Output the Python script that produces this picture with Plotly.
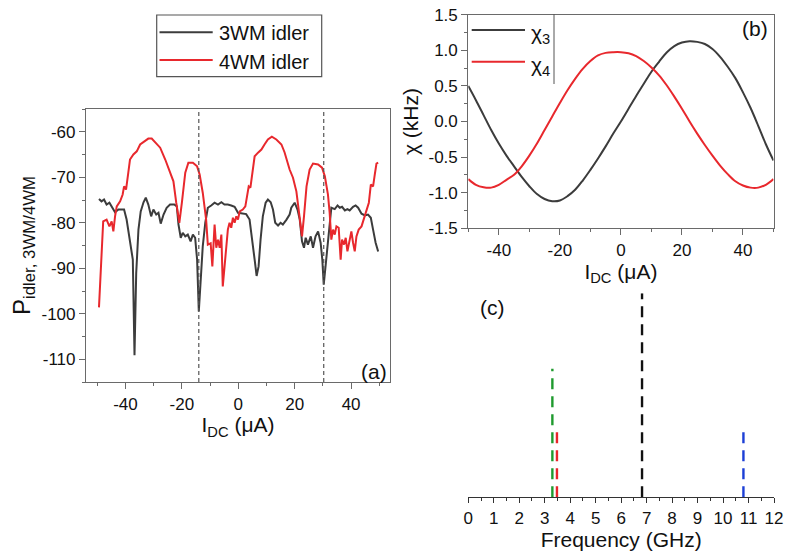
import plotly.graph_objects as go

# ---------------- Panel (a): idler power vs I_DC ----------------
idler3_x = [-49.4, -48.5, -47.6, -46.7, -45.7, -44.9, -43.7, -42.5, -41.3, -40.5, -39.6, -38.4, -37.4, -36.8,
            -36.2, -35.4, -34.6, -33.6, -32.8, -31.9, -30.9, -30.1, -29.1, -28.3, -27.5, -26.5, -25.4, -24.2,
            -22.7, -21.8, -21.2, -20.4, -19.7, -18.8, -17.9, -16.9, -16.1, -15.3, -14.6, -14.0, -13.4, -12.6,
            -11.7, -10.8, -9.6, -8.4, -7.2, -6.0, -4.9, -3.7, -2.5, -1.3, -0.1, 1.3, 2.8, 4.0, 5.0, 5.8, 6.5,
            7.2, 7.9, 8.7, 9.7, 10.5, 11.5, 12.3, 13.1, 14.1, 15.0, 15.8, 17.1, 18.2, 18.8, 20.0, 21.0, 21.8,
            22.6, 23.3, 23.9, 24.7, 25.7, 26.5, 27.4, 28.3, 29.2, 29.8, 30.3, 30.9, 31.6, 32.4, 33.0, 34.2,
            35.2, 36.0, 36.8, 37.8, 38.7, 39.5, 40.7, 41.6, 42.5, 43.7, 44.9, 46.0, 47.0, 47.8, 48.7, 49.6]
idler3_y = [-74.8, -75.3, -74.9, -76.0, -75.6, -76.5, -77.7, -77.1, -77.0, -77.1, -79.3, -83.7, -88.1, -109.1,
            -91.1, -81.5, -77.5, -75.5, -74.5, -76.0, -78.6, -77.1, -78.2, -77.8, -80.2, -78.2, -76.7, -76.0,
            -76.0, -76.4, -80.4, -83.3, -82.2, -83.0, -82.6, -84.1, -82.6, -83.3, -88.1, -99.5, -92.5, -85.2,
            -80.0, -76.7, -76.2, -75.6, -76.0, -75.5, -76.0, -76.0, -76.2, -76.5, -77.8, -78.0, -78.1, -79.3,
            -83.7, -88.1, -91.7, -89.6, -83.7, -78.6, -75.6, -74.9, -75.5, -77.1, -80.0, -80.6, -80.0, -80.4,
            -79.3, -78.2, -76.7, -75.6, -77.1, -79.3, -84.1, -85.5, -83.3, -84.8, -83.0, -85.5, -83.0, -81.9,
            -84.4, -88.1, -93.6, -89.6, -84.4, -79.3, -76.7, -77.0, -76.2, -76.7, -76.5, -77.3, -77.0, -77.3,
            -76.5, -76.2, -76.7, -78.0, -78.4, -78.2, -78.9, -81.5, -84.4, -86.3]

idler4_x = [-49.4, -48.5, -47.9, -46.7, -45.7, -44.9, -44.3, -43.7, -43.1, -41.9, -41.0, -40.5, -39.8, -39.0,
            -38.4, -37.2, -36.0, -34.8, -33.6, -31.9, -30.7, -29.5, -27.7, -25.9, -24.2, -23.0, -22.0, -21.2,
            -20.9, -20.0, -18.8, -17.7, -16.1, -14.6, -13.7, -12.6, -11.4, -10.8, -9.8, -9.2, -8.4, -7.8, -7.2,
            -6.6, -6.0, -5.5, -4.6, -3.7, -3.1, -2.5, -1.9, -1.3, -0.7, -0.1, 0.5, 1.6, 2.5, 3.2, 3.7, 4.3, 5.2,
            5.8, 7.0, 8.2, 9.3, 10.5, 11.9, 13.5, 15.3, 16.4, 18.2, 19.4, 20.6, 21.8, 22.6, 23.3, 24.2, 25.3,
            26.5, 28.3, 29.7, 30.7, 31.8, 32.4, 33.0, 33.6, 34.2, 34.8, 35.6, 36.3, 36.8, 37.5, 38.1, 38.7,
            39.5, 40.1, 40.7, 41.3, 41.9, 42.7, 43.7, 44.5, 45.5, 46.3, 47.0, 47.8, 48.4, 49.0, 49.6]
idler4_y = [-98.6, -86.7, -79.7, -79.3, -80.8, -79.7, -81.9, -78.6, -76.4, -75.3, -73.8, -72.0, -72.7, -69.0,
            -66.1, -65.0, -64.3, -62.8, -62.3, -61.5, -61.5, -62.3, -63.5, -66.1, -69.0, -70.9, -75.6, -79.7,
            -80.0, -75.6, -69.0, -66.8, -66.8, -67.6, -69.4, -73.4, -79.3, -84.8, -84.5, -89.6, -80.4, -85.5,
            -83.7, -85.5, -82.6, -94.0, -86.7, -81.5, -80.0, -81.1, -78.9, -80.0, -78.6, -79.3, -77.5, -77.1,
            -76.4, -73.1, -72.0, -72.3, -67.6, -65.4, -64.6, -63.9, -62.8, -61.7, -61.1, -61.7, -62.8, -64.5,
            -68.3, -70.1, -73.1, -78.6, -83.0, -78.6, -72.0, -68.3, -67.0, -67.2, -67.9, -69.8, -73.8, -77.8,
            -83.7, -81.5, -82.6, -80.8, -81.1, -88.1, -83.7, -84.8, -83.3, -86.3, -83.7, -81.9, -84.4, -86.3,
            -83.0, -81.5, -80.8, -79.3, -77.5, -75.6, -71.6, -72.0, -69.4, -67.0, -66.8]

guide_x = [-14.0, 30.3]
legend_a = ["3WM idler", "4WM idler"]
a_xticks = [-40, -20, 0, 20, 40]
a_xtick_text = ["-40", "-20", "0", "20", "40"]
a_yticks = [-110, -100, -90, -80, -70, -60]
a_ytick_text = ["-110", "-100", "-90", "-80", "-70", "-60"]

# ---------------- Panel (b): chi vs I_DC ----------------
chi_x = [-50, -47.5, -45, -42.5, -40, -37.5, -35, -32.5, -30, -27.5, -25, -22.5, -20, -17.5, -15, -12.5,
         -10, -7.5, -5, -2.5, 0, 2.5, 5, 7.5, 10, 12.5, 15, 17.5, 20, 22.5, 25, 27.5, 30, 32.5, 35, 37.5,
         40, 42.5, 45, 47.5, 50]
chi3 = [0.50, 0.30, 0.09, -0.12, -0.31, -0.48, -0.63, -0.78, -0.91, -1.02, -1.09, -1.12, -1.11, -1.05,
        -0.96, -0.83, -0.68, -0.52, -0.35, -0.17, 0.0, 0.18, 0.36, 0.53, 0.70, 0.84, 0.97, 1.06, 1.11, 1.13,
        1.12, 1.09, 1.02, 0.91, 0.77, 0.61, 0.41, 0.19, -0.06, -0.32, -0.55]
chi4 = [-0.81, -0.89, -0.925, -0.93, -0.89, -0.82, -0.75, -0.63, -0.48, -0.31, -0.12, 0.07, 0.26, 0.44,
        0.60, 0.74, 0.85, 0.93, 0.965, 0.975, 0.975, 0.96, 0.92, 0.85, 0.76, 0.65, 0.51, 0.35, 0.18, 0.0,
        -0.17, -0.33, -0.48, -0.62, -0.74, -0.84, -0.90, -0.93, -0.93, -0.89, -0.81]
legend_b = ["χ<sub>3</sub>", "χ<sub>4</sub>"]
b_yticks = [-1.5, -1.0, -0.5, 0.0, 0.5, 1.0, 1.5]
b_ytick_text = ["-1.5", "-1.0", "-0.5", "0.0", "0.5", "1.0", "1.5"]

# ---------------- Panel (c): frequency lines ----------------
freq_ghz = [3.30, 3.48, 6.82, 10.80]
freq_amp = [0.63, 0.34, 1.00, 0.34]
freq_colors = ["#1f9a2e", "#e8262b", "#111111", "#1c3fd6"]

BLACK = "#3c3c3c"
RED = "#e8282d"
FONT = "Liberation Sans, Arial, sans-serif"
# the page body margin is removed (post_script), so the figure fills the 788x558 window
W, H = 788, 558


def px(x):
    return x / W


def py(y):
    return 1 - y / H


fig = go.Figure()

fig.add_trace(go.Scatter(x=idler3_x, y=idler3_y, mode="lines", line=dict(color=BLACK, width=2),
                         xaxis="x", yaxis="y", showlegend=False))
fig.add_trace(go.Scatter(x=idler4_x, y=idler4_y, mode="lines", line=dict(color=RED, width=2),
                         xaxis="x", yaxis="y", showlegend=False))
fig.add_trace(go.Scatter(x=chi_x, y=chi3, mode="lines", line=dict(color=BLACK, width=2, shape="spline"),
                         xaxis="x2", yaxis="y2", showlegend=False))
fig.add_trace(go.Scatter(x=chi_x, y=chi4, mode="lines", line=dict(color=RED, width=2, shape="spline"),
                         xaxis="x2", yaxis="y2", showlegend=False))
for f, a, c in zip(freq_ghz, freq_amp, freq_colors):
    fig.add_trace(go.Scatter(x=[f, f], y=[0, a], mode="lines",
                             line=dict(color=c, width=2.4, dash="11px,7px"),
                             xaxis="x3", yaxis="y3", showlegend=False))

shapes = []
for gx in guide_x:
    shapes.append(dict(type="line", xref="x", yref="y domain", x0=gx, x1=gx, y0=0, y1=1,
                       line=dict(color="#555555", width=1.2, dash="4px,3px")))

# legend (a)
shapes.append(dict(type="rect", xref="paper", yref="paper", x0=px(156.7), x1=px(321.7),
                   y0=py(76.7), y1=py(15), line=dict(color="#555555", width=1.2)))
for yy, col in zip([32.3, 60.0], [BLACK, RED]):
    shapes.append(dict(type="line", xref="paper", yref="paper", x0=px(159.5), x1=px(212.7),
                       y0=py(yy), y1=py(yy), line=dict(color=col, width=2)))
# legend (b)
for yy, col in zip([30.0, 61.7], [BLACK, RED]):
    shapes.append(dict(type="line", xref="paper", yref="paper", x0=px(471.7), x1=px(525),
                       y0=py(yy), y1=py(yy), line=dict(color=col, width=2)))
shapes.append(dict(type="line", xref="paper", yref="paper", x0=px(554), x1=px(554),
                   y0=py(84), y1=py(14), line=dict(color="#555555", width=1)))

annotations = []
for txt, yy in zip(legend_a, [33.5, 61.5]):
    annotations.append(dict(text=txt, xref="paper", yref="paper", x=px(217), y=py(yy),
                            xanchor="left", yanchor="middle", showarrow=False,
                            font=dict(size=20, color="#111", family=FONT)))
for txt, yy in zip(legend_b, [34.5, 66.0]):
    annotations.append(dict(text=txt, xref="paper", yref="paper", x=px(529), y=py(yy),
                            xanchor="left", yanchor="middle", showarrow=False,
                            font=dict(size=21, color="#111", family=FONT)))
for txt, xx, yy in [("(a)", 374, 371), ("(b)", 755, 28), ("(c)", 492, 307.5)]:
    annotations.append(dict(text=txt, xref="paper", yref="paper", x=px(xx), y=py(yy),
                            xanchor="center", yanchor="middle", showarrow=False,
                            font=dict(size=21, color="#111", family=FONT)))

tickfont = dict(size=17, color="#111", family=FONT)
titlefont = dict(size=21, color="#111", family=FONT)
frame = dict(showline=True, linecolor="#6a6a6a", linewidth=1.2, mirror=True, ticks="outside",
             ticklen=6, tickcolor="#6a6a6a", showgrid=False, zeroline=False, tickfont=tickfont,
             automargin=False, ticklabeloverflow="allow")

fig.update_layout(
    width=W, height=H, margin=dict(l=0, r=0, t=0, b=0, autoexpand=False),
    paper_bgcolor="white", plot_bgcolor="white",
    font=dict(family=FONT, color="#111"),
    xaxis=dict(domain=[px(86), px(390)], range=[-54, 53.8], tickvals=a_xticks, ticktext=a_xtick_text,
               minor=dict(dtick=10, tick0=0, ticks="outside", ticklen=3, tickcolor="#6a6a6a"),
               title=dict(text="I<sub>DC</sub> (μA)", font=titlefont, standoff=2),
               anchor="y", **frame),
    yaxis=dict(domain=[py(382), py(109)], range=[-115, -55], tickvals=a_yticks, ticktext=a_ytick_text,
               minor=dict(dtick=5, tick0=0, ticks="outside", ticklen=3, tickcolor="#6a6a6a"),
               title=dict(text="P<sub>idler, 3WM/4WM</sub>", font=dict(size=24, color="#111", family=FONT),
                          standoff=4),
               anchor="x", **frame),
    xaxis2=dict(domain=[px(468.3), px(773.5)], range=[-50, 50], tickvals=a_xticks, ticktext=a_xtick_text,
                minor=dict(dtick=10, tick0=0, ticks="outside", ticklen=3, tickcolor="#6a6a6a"),
                title=dict(text="I<sub>DC</sub> (μA)", font=titlefont, standoff=2),
                anchor="y2", **frame),
    yaxis2=dict(domain=[py(228.3), py(14.7)], range=[-1.502, 1.502], tickvals=b_yticks, ticktext=b_ytick_text,
                minor=dict(dtick=0.25, tick0=0, ticks="outside", ticklen=3, tickcolor="#6a6a6a"),
                title=dict(text="χ (kHz)", font=titlefont, standoff=4),
                anchor="x2", **frame),
    xaxis3=dict(domain=[px(468.3), px(774)], range=[0, 12], dtick=1, tick0=0,
                showline=True, linecolor="#333333", linewidth=1.2, mirror=False, ticks="outside",
                ticklen=5, tickcolor="#333333", showgrid=False, zeroline=False, tickfont=tickfont,
                minor=dict(dtick=0.5, ticks="outside", ticklen=3, tickcolor="#333333"),
                title=dict(text="Frequency (GHz)", font=titlefont, standoff=2),
                anchor="y3", automargin=False, ticklabeloverflow="allow"),
    yaxis3=dict(domain=[py(497.3), py(293.3)], range=[0, 1], visible=False, anchor="x3"),
    shapes=shapes,
    annotations=annotations,
)

fig.write_html("out.html", config={"displayModeBar": False},
               post_script="document.body.style.margin='0';document.body.style.overflow='hidden';")
